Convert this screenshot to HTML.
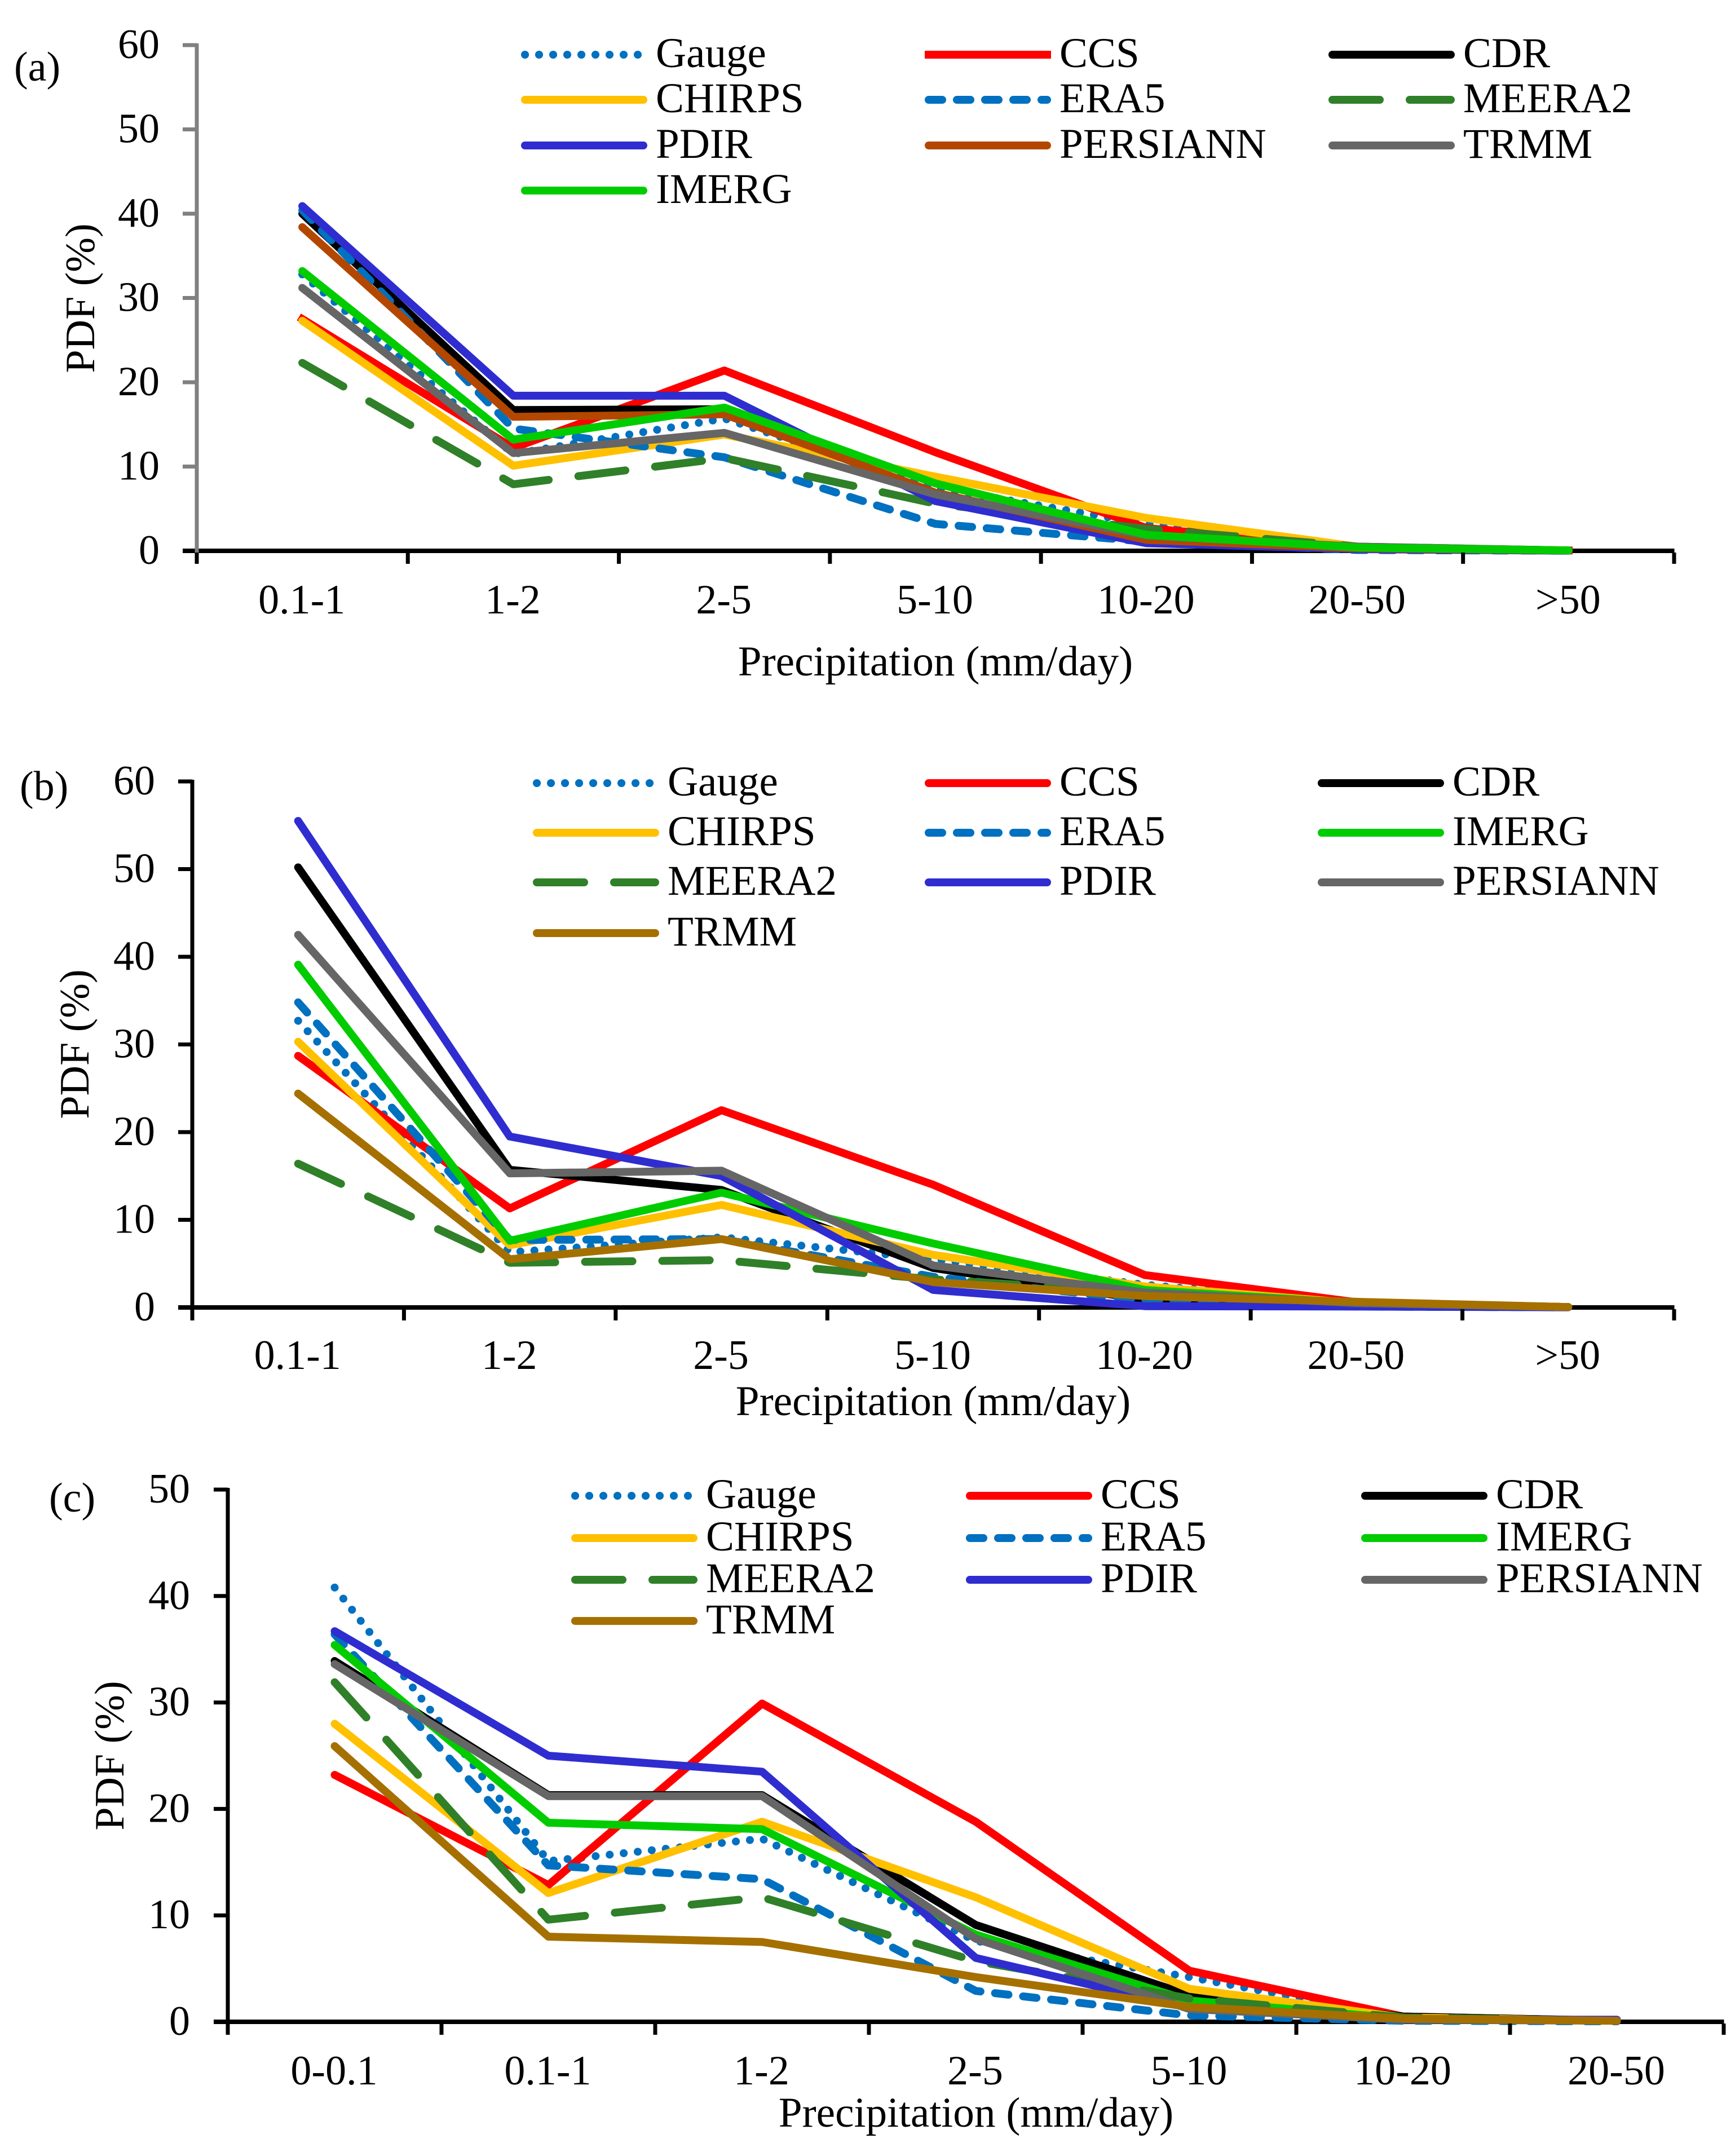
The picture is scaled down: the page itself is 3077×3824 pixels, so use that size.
<!DOCTYPE html>
<html lang="en">
<head>
<meta charset="utf-8">
<title>Precipitation PDF charts</title>
<style>
html,body{margin:0;padding:0;background:#fff}
svg{display:block}
text{font-family:"Liberation Serif",serif;fill:#000}
</style>
</head>
<body>
<svg id="chart" xmlns="http://www.w3.org/2000/svg" width="3077" height="3824" viewBox="0 0 3077 3824">
<rect x="0" y="0" width="3077" height="3824" fill="#fff"/>
</svg>
<script>
// ---- Panel (a) data ----
const categoriesA = ["0.1-1","1-2","2-5","5-10","10-20","20-50",">50"];
const yTicksA = [0,10,20,30,40,50,60];
const gaugeA    = [32.8,11.5,15.7,7.5,3.2,0.5,0.05];
const ccsA      = [27.5,12.2,21.4,11.7,2.7,0.4,0.05];
const cdrA      = [40.0,16.7,16.8,6.5,1.2,0.3,0.05];
const chirpsA   = [27.3,10.1,13.8,8.8,3.9,0.5,0.05];
const era5A     = [40.4,14.5,11.1,3.2,1.1,0.1,0.02];
const meera2A   = [22.3,7.9,11.0,5.6,2.6,0.5,0.05];
const pdirA     = [40.9,18.4,18.4,5.9,0.9,0.2,0.02];
const persiannA = [38.4,15.9,16.2,6.9,1.3,0.3,0.05];
const trmmA     = [31.2,11.6,14.0,6.7,1.8,0.5,0.05];
const imergA    = [33.2,13.2,17.0,8.0,1.9,0.4,0.05];

// ---- Panel (b) data ----
const categoriesB = ["0.1-1","1-2","2-5","5-10","10-20","20-50",">50"];
const yTicksB = [0,10,20,30,40,50,60];
const gaugeB    = [32.7,6.3,8.0,5.5,2.6,0.5,0.05];
const ccsB      = [28.7,11.3,22.5,14.0,3.7,0.6,0.05];
const cdrB      = [50.2,15.7,13.4,4.5,0.9,0.3,0.05];
const chirpsB   = [30.3,7.1,11.7,6.0,2.4,0.5,0.05];
const era5B     = [34.8,7.7,7.8,3.5,0.8,0.1,0.02];
const imergB    = [39.1,7.6,13.1,7.3,2.0,0.5,0.05];
const meera2B   = [16.4,5.1,5.4,3.2,1.7,0.5,0.05];
const pdirB     = [55.5,19.5,15.0,2.0,0.15,0.1,0.02];
const persiannB = [42.5,15.3,15.6,4.8,1.7,0.5,0.05];
const trmmB     = [24.4,5.5,7.8,2.9,1.3,0.65,0.05];

// ---- Panel (c) data ----
const categoriesC = ["0-0.1","0.1-1","1-2","2-5","5-10","10-20","20-50"];
const yTicksC = [0,10,20,30,40,50];
const gaugeC    = [40.8,15.1,17.2,7.6,4.2,0.4,0.1];
const ccsC      = [23.2,12.85,29.9,18.8,4.8,0.5,0.1];
const cdrC      = [33.9,21.3,21.3,9.1,2.5,0.5,0.1];
const chirpsC   = [28.0,12.1,18.8,11.7,3.1,0.4,0.1];
const era5C     = [36.4,14.7,13.4,2.9,0.6,0.1,0.05];
const imergC    = [35.4,18.7,18.1,8.2,2.0,0.3,0.1];
const meera2C   = [31.9,9.6,11.7,5.7,2.2,0.4,0.1];
const pdirC     = [36.7,25.0,23.5,6.0,1.3,0.2,0.2];
const persiannC = [33.6,21.2,21.2,7.8,1.2,0.2,0.1];
const trmmC     = [25.9,8.0,7.5,4.2,1.4,0.3,0.1];

const NS = "http://www.w3.org/2000/svg";
const svg = document.getElementById("chart");

const BLUE="#0070c0", RED="#ff0000", BLACK="#000000", YELLOW="#ffc000", GREEN="#2f8028",
      INDIGO="#2f2dcf", BROWN="#b34700", GREY="#666666", OCHRE="#a57000", LIME="#00cc00";
const DOT="0.1 24.9", DASH="24 26", LONG="84 53";

function addText(parent, str, x, y, anchor, size){
  const t = document.createElementNS(NS,"text");
  t.setAttribute("x",x);
  t.setAttribute("y",y);
  t.setAttribute("font-size",size||74);
  t.setAttribute("text-anchor",anchor||"start");
  t.textContent = str;
  parent.appendChild(t);
  return t;
}
function addLine(parent,x1,y1,x2,y2,color,w){
  const l = document.createElementNS(NS,"line");
  l.setAttribute("x1",x1);
  l.setAttribute("y1",y1);
  l.setAttribute("x2",x2);
  l.setAttribute("y2",y2);
  l.setAttribute("stroke",color);
  l.setAttribute("stroke-width",w);
  parent.appendChild(l);
  return l;
}

function drawPanel(p){
  const g = document.createElementNS(NS,"g");
  
  
  svg.appendChild(g);

  const yMax = p.yTicks[p.yTicks.length-1];
  const yScale = v => p.y0 + (p.yTop - p.y0) * v / yMax;
  const step = (p.xRight - p.xLeft) / p.categories.length;
  const xScale = i => p.xLeft + step * (i + 0.5);

  // panel letter
  const letter = addText(g,p.letter,p.letterX,p.letterY);
  
  

  // x axis, behind the series
  const xAxis = addLine(g,p.xLeft-25,p.y0,p.xRight+0.5,p.y0,"#000",8);
  
  

  // y axis
  const yAxis = addLine(g,p.xLeft,p.yTop-3,p.xLeft,p.y0+3,p.yColor,7);
  
  
  p.yTicks.forEach(v=>{
    if(v>0){
      const tick = addLine(g,p.xLeft-25,yScale(v),p.xLeft,yScale(v),p.yColor,7);
      
      
    }
    const lbl = addText(g,String(v),p.yLabelX,yScale(v)+23,"end");
    
    
  });

  // series
  p.series.forEach(s=>{
    const pts = s.values.map((v,i)=>xScale(i).toFixed(1)+","+yScale(v).toFixed(1)).join(" ");
    const line = document.createElementNS(NS,"polyline");
    line.setAttribute("points",pts);
    line.setAttribute("fill","none");
    line.setAttribute("stroke",s.color);
    line.setAttribute("stroke-width",14);
    line.setAttribute("stroke-linecap",s.cap||"round");
    line.setAttribute("stroke-linejoin","round");
    if(s.dash) line.setAttribute("stroke-dasharray",s.dash);
    
    
    g.appendChild(line);
  });

  for(let i=0;i<=p.categories.length;i++){
    const tick = addLine(g,p.xLeft+step*i,p.y0+3,p.xLeft+step*i,p.y0+23,"#000",7);
    
    
  }
  p.categories.forEach((c,i)=>{
    const lbl = addText(g,c,xScale(i)-1,p.xLabelY,"middle");
    
    
  });

  // axis titles
  const xTitle = addText(g,"Precipitation (mm/day)",p.xTitleX,p.xTitleY,"middle",75.3);
  
  
  const yTitle = addText(g,"PDF (%)",0,0,"middle");
  yTitle.setAttribute("transform","translate("+p.yTitleX+","+p.yTitleY+") rotate(-90)");
  
  

  // legend, laid out column by column across rows
  p.series.forEach((s,i)=>{
    const col = i % 3, row = Math.floor(i/3);
    const x = p.legendX[col], y = p.legendY[row];
    const entry = document.createElementNS(NS,"g");
    
    
    g.appendChild(entry);
    const key = addLine(entry,x+7,y,x+217,y,s.color,14);
    key.setAttribute("stroke-linecap",s.cap||"round");
    if(s.dash) key.setAttribute("stroke-dasharray",s.dash);
    
    
    const lbl = addText(entry,s.name,x+239,y+22,"start",75);
    
    
  });
}

drawPanel({
  id:"panel-a", letter:"(a)", letterX:25, letterY:143,
  xLeft:349, xRight:2969, yTop:80, y0:977, yColor:"#808080", yLabelX:283,
  xLabelY:1088, xTitleX:1659, xTitleY:1198, yTitleX:167, yTitleY:529,
  categories:categoriesA, yTicks:yTicksA,
  legendX:[924,1640,2356], legendY:[97,177,258,338],
  series:[
    {name:"Gauge",values:gaugeA,color:BLUE,dash:DOT},
    {name:"CCS",values:ccsA,color:RED,cap:"square"},
    {name:"CDR",values:cdrA,color:BLACK},
    {name:"CHIRPS",values:chirpsA,color:YELLOW},
    {name:"ERA5",values:era5A,color:BLUE,dash:DASH},
    {name:"MEERA2",values:meera2A,color:GREEN,dash:LONG},
    {name:"PDIR",values:pdirA,color:INDIGO},
    {name:"PERSIANN",values:persiannA,color:BROWN},
    {name:"TRMM",values:trmmA,color:GREY},
    {name:"IMERG",values:imergA,color:LIME}
  ]
});

drawPanel({
  id:"panel-b", letter:"(b)", letterX:35, letterY:1419,
  xLeft:341, xRight:2969, yTop:1386, y0:2319, yColor:"#000", yLabelX:275,
  xLabelY:2428, xTitleX:1655, xTitleY:2510, yTitleX:157, yTitleY:1852,
  categories:categoriesB, yTicks:yTicksB,
  legendX:[945,1640,2337], legendY:[1389,1477,1565,1655],
  series:[
    {name:"Gauge",values:gaugeB,color:BLUE,dash:DOT},
    {name:"CCS",values:ccsB,color:RED},
    {name:"CDR",values:cdrB,color:BLACK},
    {name:"CHIRPS",values:chirpsB,color:YELLOW},
    {name:"ERA5",values:era5B,color:BLUE,dash:DASH},
    {name:"IMERG",values:imergB,color:LIME},
    {name:"MEERA2",values:meera2B,color:GREEN,dash:LONG},
    {name:"PDIR",values:pdirB,color:INDIGO},
    {name:"PERSIANN",values:persiannB,color:GREY},
    {name:"TRMM",values:trmmB,color:OCHRE}
  ]
});

drawPanel({
  id:"panel-c", letter:"(c)", letterX:87, letterY:2681,
  xLeft:404, xRight:3057, yTop:2642, y0:3586, yColor:"#000", yLabelX:337,
  xLabelY:3697, xTitleX:1731, xTitleY:3772, yTitleX:219, yTitleY:3114,
  categories:categoriesC, yTicks:yTicksC,
  legendX:[1013,1713,2414], legendY:[2653,2728,2802,2875],
  series:[
    {name:"Gauge",values:gaugeC,color:BLUE,dash:DOT},
    {name:"CCS",values:ccsC,color:RED},
    {name:"CDR",values:cdrC,color:BLACK},
    {name:"CHIRPS",values:chirpsC,color:YELLOW},
    {name:"ERA5",values:era5C,color:BLUE,dash:DASH},
    {name:"IMERG",values:imergC,color:LIME},
    {name:"MEERA2",values:meera2C,color:GREEN,dash:LONG},
    {name:"PDIR",values:pdirC,color:INDIGO},
    {name:"PERSIANN",values:persiannC,color:GREY},
    {name:"TRMM",values:trmmC,color:OCHRE}
  ]
});
</script>
</body>
</html>
